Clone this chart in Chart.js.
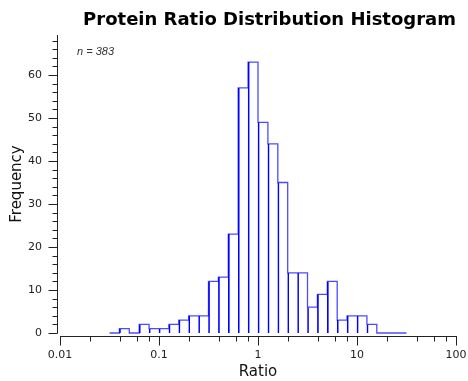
<!DOCTYPE html>
<html><head><meta charset="utf-8">
<script src="https://cdn.jsdelivr.net/npm/chart.js@4.4.1/dist/chart.umd.min.js"></script>
<style>html,body{margin:0;padding:0;background:#fff;}#wrap{width:468px;height:381px;}</style>
</head><body><div id="wrap"><canvas id="c" width="468" height="381"></canvas></div>
<script>
// Bin edges (ratio), 30 bins of 0.1 decade from 10^-1.5 to 10^1.5
const binEdges = [0.0316228, 0.0398107, 0.0501187, 0.0630957, 0.0794328, 0.1, 0.125893, 0.158489, 0.199526, 0.251189,
  0.316228, 0.398107, 0.501187, 0.630957, 0.794328, 1, 1.25893, 1.58489, 1.99526, 2.51189,
  3.16228, 3.98107, 5.01187, 6.30957, 7.94328, 10, 12.5893, 15.8489, 19.9526, 25.1189, 31.6228];
// Frequency per bin
const counts = [0, 1, 0, 2, 1, 1, 2, 3, 4, 4, 12, 13, 23, 57, 63, 49, 44, 35, 14, 14, 6, 9, 12, 3, 4, 4, 2, 0, 0, 0];
const xTickValues = [0.01, 0.1, 1, 10, 100];
const xTickLabels = ['0.01', '0.1', '1', '10', '100'];
const xMinorMultipliers = [2, 4, 6, 8];
const yTickValues = [0, 10, 20, 30, 40, 50, 60];
const yMinorStep = 2;
const yMax = 69.3;
const sampleSize = 383;
const titleText = 'Protein Ratio Distribution Histogram';

const barData = counts.map((c, i) => ({ x: Math.sqrt(binEdges[i] * binEdges[i + 1]), y: c }));
const outlineData = binEdges.map((e, i) => ({ x: e, y: i < counts.length ? counts[i] : 0 }));

const axesPlugin = {
  id: 'offsetAxes',
  afterDraw(chart) {
    const { ctx, chartArea } = chart;
    const xs = chart.scales.x, ys = chart.scales.y;
    ctx.save();
    ctx.strokeStyle = '#222';
    ctx.lineWidth = 1;
    const axX = Math.round(chartArea.left) - 3 + 0.5;
    const axY = Math.round(chartArea.bottom) + 3 + 0.5;
    ctx.beginPath();
    ctx.moveTo(axX, Math.round(ys.getPixelForValue(yMax)));
    ctx.lineTo(axX, Math.round(ys.getPixelForValue(0)) + 0.5);
    for (let v = 0; v <= yMax; v += yMinorStep) {
      const py = Math.round(ys.getPixelForValue(v)) + 0.5;
      const major = v % 10 === 0;
      ctx.moveTo(axX - (major ? 9 : 5), py);
      ctx.lineTo(axX, py);
    }
    ctx.moveTo(Math.round(xs.getPixelForValue(xTickValues[0])), axY);
    ctx.lineTo(Math.round(xs.getPixelForValue(xTickValues[xTickValues.length - 1])) + 1, axY);
    xTickValues.forEach((v, i) => {
      const px = Math.round(xs.getPixelForValue(v)) + 0.5;
      ctx.moveTo(px, axY);
      ctx.lineTo(px, axY + 9);
      if (i < xTickValues.length - 1) {
        xMinorMultipliers.forEach(m => {
          const pm = Math.round(xs.getPixelForValue(v * m)) + 0.5;
          ctx.moveTo(pm, axY);
          ctx.lineTo(pm, axY + 5);
        });
      }
    });
    ctx.stroke();
    ctx.fillStyle = '#333';
    ctx.font = 'italic 11px "Liberation Sans", Arial, sans-serif';
    ctx.textBaseline = 'middle';
    ctx.textAlign = 'left';
    ctx.fillText('n = ' + sampleSize, chartArea.left + 17, 52);
    ctx.restore();
  }
};

new Chart(document.getElementById('c'), {
  data: {
    datasets: [
      {
        type: 'bar',
        data: barData,
        backgroundColor: 'rgba(0,0,0,0)',
        borderColor: '#0000ff',
        borderWidth: { left: 1, top: 0, right: 0, bottom: 0 },
        borderSkipped: false,
        barPercentage: 1,
        categoryPercentage: 1,
        clip: false
      },
      {
        type: 'line',
        data: outlineData,
        stepped: true,
        borderColor: 'rgba(0,0,255,0.7)',
        borderWidth: 1.3,
        pointRadius: 0,
        fill: false,
        clip: false
      }
    ]
  },
  plugins: [axesPlugin],
  options: {
    responsive: false,
    devicePixelRatio: 1,
    animation: false,
    layout: { padding: { left: 0, right: 12, top: 0, bottom: 0 } },
    plugins: {
      legend: { display: false },
      tooltip: { enabled: false },
      title: {
        display: true,
        text: titleText,
        align: 'end',
        color: '#000',
        font: { family: 'DejaVu Sans', size: 18, weight: 'bold', lineHeight: 1.2 },
        padding: { top: 10, bottom: 3.4 }
      }
    },
    scales: {
      x: {
        type: 'logarithmic',
        min: 0.01,
        max: 100,
        grid: { display: false, drawTicks: false },
        border: { display: false },
        afterBuildTicks: (axis) => { axis.ticks = xTickValues.map(v => ({ value: v, major: true })); },
        afterFit: (axis) => { axis.height = 48; axis.paddingLeft = 0; axis.paddingRight = 0; },
        ticks: {
          autoSkip: false,
          maxRotation: 0,
          padding: 15.5,
          color: '#222',
          font: { family: 'DejaVu Sans', size: 11 },
          callback: (v) => xTickLabels[xTickValues.indexOf(v)]
        },
        title: {
          display: true,
          text: 'Ratio',
          color: '#111',
          font: { family: 'DejaVu Sans', size: 15 },
          padding: { top: 0, bottom: 0 }
        }
      },
      y: {
        type: 'linear',
        min: 0,
        max: yMax,
        grid: { display: false, drawTicks: false },
        border: { display: false },
        afterBuildTicks: (axis) => { axis.ticks = yTickValues.map(v => ({ value: v })); },
        afterFit: (axis) => { axis.width = 60; axis.paddingTop = 0; axis.paddingBottom = 0; },
        ticks: {
          padding: 18,
          color: '#222',
          font: { family: 'DejaVu Sans', size: 11 }
        },
        title: {
          display: true,
          text: 'Frequency',
          color: '#111',
          font: { family: 'DejaVu Sans', size: 15 },
          padding: { top: 8, bottom: 0 }
        }
      }
    }
  }
});
</script></body></html>
